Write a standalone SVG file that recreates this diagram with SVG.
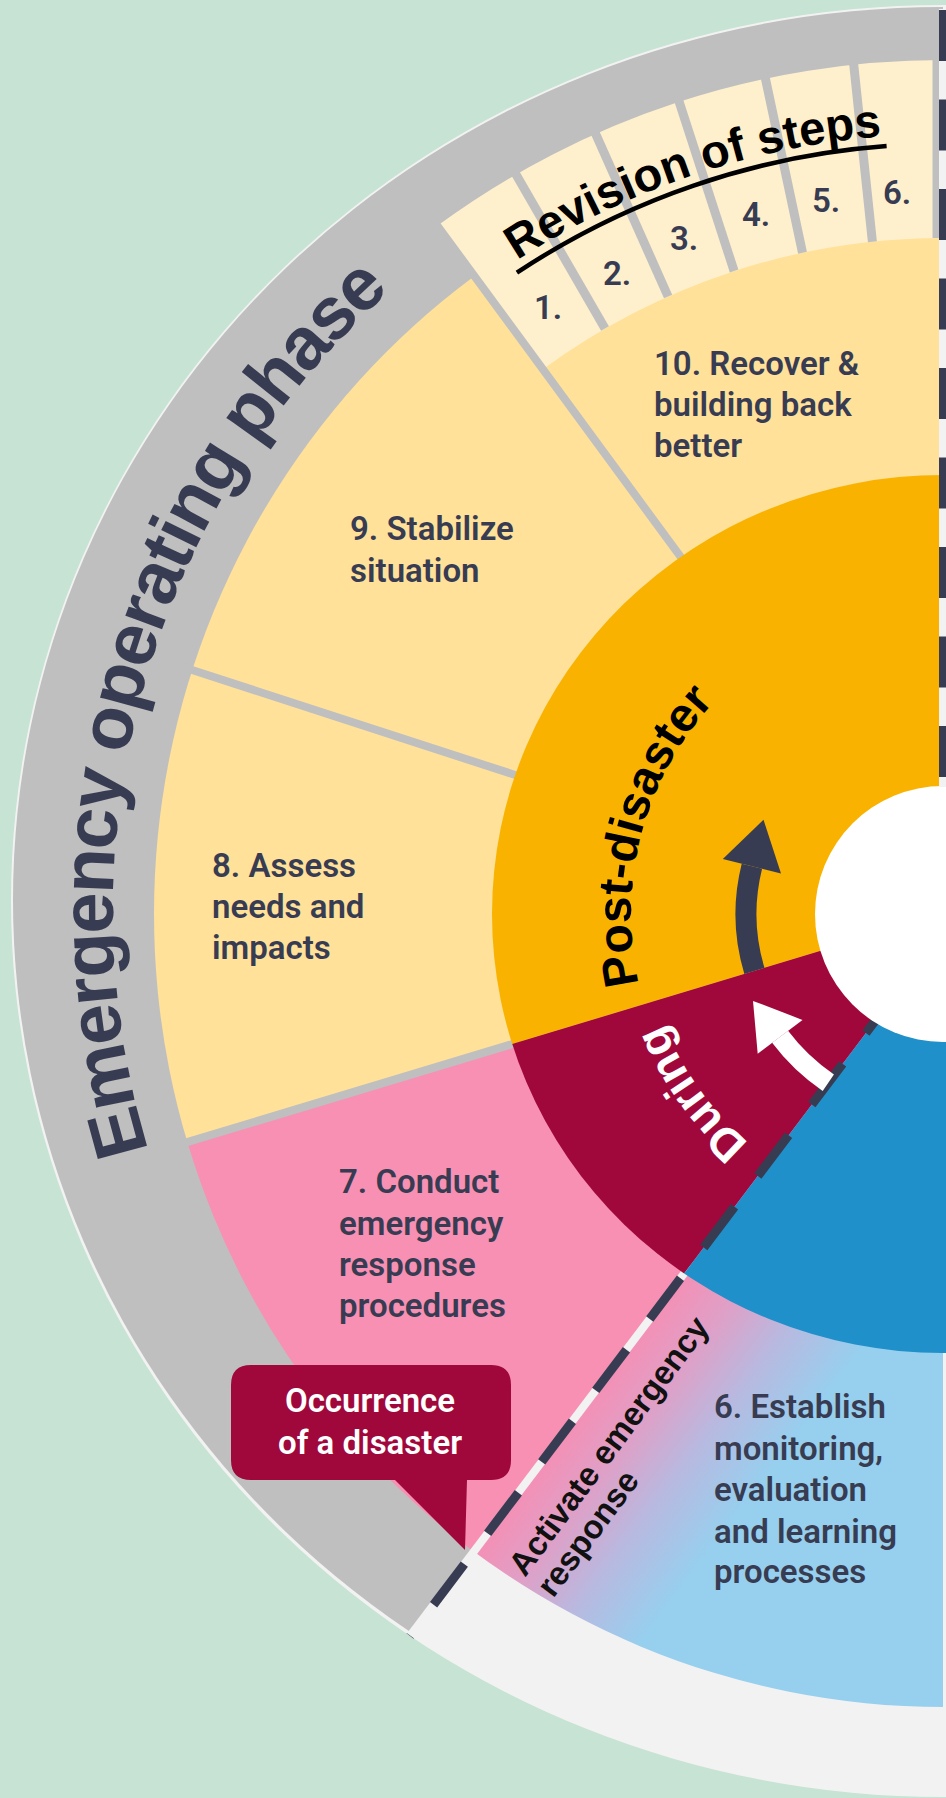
<svg xmlns="http://www.w3.org/2000/svg" width="946" height="1798" viewBox="0 0 946 1798">
<style>
.lbl{font-family:Roboto,"Liberation Sans",sans-serif;font-weight:600;font-size:33px;fill:#383C52}
.num{font-family:Roboto,"Liberation Sans",sans-serif;font-weight:600;font-size:33px;fill:#383C52}
.sep{stroke:#BFBFBF;stroke-width:8;fill:none}
.csep{stroke:#BFBFBF;stroke-width:9;fill:none}
.big{font-family:"Liberation Sans",Arial,sans-serif;font-weight:bold}
</style>
<defs>
<clipPath id="segClip"><ellipse cx="943" cy="914" rx="789" ry="793"/></clipPath>
<clipPath id="innerClip"><ellipse cx="943" cy="914" rx="451" ry="439"/></clipPath>
<clipPath id="greyClip"><polygon points="943,931 943,-300 -300,-300 -300,2400 -9.1,2190.2"/></clipPath>
<linearGradient id="g6" gradientUnits="userSpaceOnUse" x1="410" y1="1636" x2="560" y2="1749">
<stop offset="0" stop-color="#F58FB5"/>
<stop offset="0.3" stop-color="#DFA0C7"/>
<stop offset="0.62" stop-color="#B8B9E0"/>
<stop offset="1" stop-color="#97CFEE"/>
</linearGradient>
<path id="pEmerg" d="M 153.6 1166.5 A 830 830 0 0 1 432 256"/>
<path id="pRev" d="M 495.6 275 A 780 780 0 0 1 943 134"/>
<path id="pPost" d="M 641.6 994.7 A 312 312 0 0 1 742.5 675"/>
<path id="pDuring" d="M 758.3 1150.4 A 300 300 0 0 1 657.7 1006.7"/>
</defs>
<rect width="946" height="1798" fill="#C6E3D3"/>
<g id="outer-ring">
<ellipse cx="943" cy="901" rx="932" ry="896" fill="#F2F2F2"/>
<ellipse cx="943" cy="900" rx="930" ry="893" fill="#BFBFBF" clip-path="url(#greyClip)"/>
</g>
<g id="steps" clip-path="url(#segClip)">
<polygon id="seg-8-9-10" fill="#FFE19A" points="943,914 943,-286 94.5,65.5 -257,914 -205.8,1260.8"/>
<polygon id="seg-7" fill="#F890B4" points="959.8,908.9 -205.8,1260.8 -40,1602 232.2,1871.1"/>
<polygon id="seg-6" fill="url(#g6)" points="943,931 232.2,1871.1 532.6,2041.6 943,2114"/>
</g>
<path id="revision-band" fill="#FFF0CD" d="M 943 60 A 854 854 0 0 0 437.4 225.8 L 542.8 369.2 A 676 676 0 0 1 943 238 Z"/>
<g id="separators">
<line class="sep" x1="682.5" y1="559.4" x2="432.7" y2="219.3"/>
<line class="sep" x1="524.5" y1="778" x2="182.1" y2="666.8"/>
<line class="sep" x1="521.8" y1="1041.2" x2="177.2" y2="1145.2"/>
<line class="csep" x1="605" y1="328.6" x2="513" y2="169.2"/>
<line class="csep" x1="668.1" y1="296.5" x2="593.2" y2="128.4"/>
<line class="csep" x1="734.1" y1="271" x2="677.3" y2="96.1"/>
<line class="csep" x1="802.5" y1="252.8" x2="764.2" y2="72.8"/>
<line class="csep" x1="872.4" y1="241.7" x2="853.1" y2="58.7"/>
<rect x="932.5" y="50" width="8" height="188" fill="#BFBFBF"/>
<line x1="690.6" y1="1264.9" x2="410" y2="1636" stroke="#F2F2F2" stroke-width="8"/>
</g>
<g id="phases" clip-path="url(#innerClip)">
<polygon id="post-disaster" fill="#F9B200" points="959.8,908.9 950,-300 94.5,65.5 -257,914 -205.8,1260.8"/>
<polygon id="during" fill="#A0083C" points="959.8,908.9 -205.8,1260.8 -40,1602 232.2,1871.1"/>
<polygon id="pre-disaster" fill="#1F90C9" points="959.8,908.9 232.2,1871.1 532.6,2041.6 943,2114 1000,2114 1000,908.9"/>
</g>
<g id="connectors">
<line x1="410" y1="1636" x2="889.6" y2="1001.7" stroke="#383C52" stroke-width="9" stroke-dasharray="51 38.6" stroke-dashoffset="50.5"/>
</g>
<circle id="hub" cx="943" cy="914" r="128" fill="#FFFFFF"/>
<g id="phase-divider">
<rect x="939" y="9" width="8" height="778" fill="#F2F2F2"/>
<line x1="943" y1="10" x2="943" y2="787" stroke="#383C52" stroke-width="8" stroke-dasharray="51 38.5"/>
</g>
<g id="arrows">
<path d="M 754.4 970.9 A 197 197 0 0 1 751.9 866.3" fill="none" stroke="#383C52" stroke-width="21"/>
<polygon points="722.8,859 781,873.6 763.5,819.7" fill="#383C52"/>
<path d="M 828.3 1082.7 A 204 204 0 0 1 780.1 1036.8" fill="none" stroke="#FFFFFF" stroke-width="20"/>
<polygon points="757.7,1053.7 802.5,1019.9 753,1000.9" fill="#FFFFFF"/>
</g>
<g id="title-emergency">
<text class="big" font-size="74" fill="#383C52" letter-spacing="-2"><textPath href="#pEmerg" startOffset="17">Emergency operating phase</textPath></text>
</g>
<g id="title-revision">
<text class="big" font-size="47" fill="#000000"><textPath href="#pRev" startOffset="26">Revision of steps</textPath></text>
<path d="M 516.9 272.7 A 770 770 0 0 1 886.6 146.1" fill="none" stroke="#000000" stroke-width="4.5"/>
</g>
<g id="revision-numbers">
<text class="num" x="534" y="319">1.</text>
<text class="num" x="603" y="285">2.</text>
<text class="num" x="670" y="250">3.</text>
<text class="num" x="742" y="226">4.</text>
<text class="num" x="812" y="212">5.</text>
<text class="num" x="883" y="204">6.</text>
</g>
<g id="phase-labels">
<text class="big" font-size="48" fill="#000000"><textPath href="#pPost" startOffset="11">Post-disaster</textPath></text>
<text class="big" font-size="46" fill="#FFFFFF"><textPath href="#pDuring" startOffset="12">During</textPath></text>
</g>
<g id="step-10"><text class="lbl"><tspan x="654" y="375">10. Recover &amp;</tspan><tspan x="654" y="416">building back</tspan><tspan x="654" y="457">better</tspan></text></g>
<g id="step-9"><text class="lbl"><tspan x="350" y="540">9. Stabilize</tspan><tspan x="350" y="582">situation</tspan></text></g>
<g id="step-8"><text class="lbl"><tspan x="212" y="877">8. Assess</tspan><tspan x="212" y="918">needs and</tspan><tspan x="212" y="959">impacts</tspan></text></g>
<g id="step-7"><text class="lbl"><tspan x="339" y="1193">7. Conduct</tspan><tspan x="339" y="1235">emergency</tspan><tspan x="339" y="1276">response</tspan><tspan x="339" y="1317">procedures</tspan></text></g>
<g id="step-6"><text class="lbl"><tspan x="714" y="1418">6. Establish</tspan><tspan x="714" y="1460">monitoring,</tspan><tspan x="714" y="1501">evaluation</tspan><tspan x="714" y="1543">and learning</tspan><tspan x="714" y="1583">processes</tspan></text></g>
<g id="activate-label">
<text class="big" font-size="33" fill="#111111" transform="translate(525,1578) rotate(-53.5)"><tspan x="0" y="0">Activate emergency</tspan><tspan x="0" y="35">response</tspan></text>
</g>
<g id="callout">
<path d="M 251 1365 H 491 Q 511 1365 511 1385 V 1460 Q 511 1480 491 1480 H 467 L 465 1550 L 395 1480 H 251 Q 231 1480 231 1460 V 1385 Q 231 1365 251 1365 Z" fill="#A0083C"/>
<text class="lbl" style="fill:#FFFFFF" text-anchor="middle"><tspan x="370" y="1412">Occurrence</tspan><tspan x="370" y="1454">of a disaster</tspan></text>
</g>
</svg>
